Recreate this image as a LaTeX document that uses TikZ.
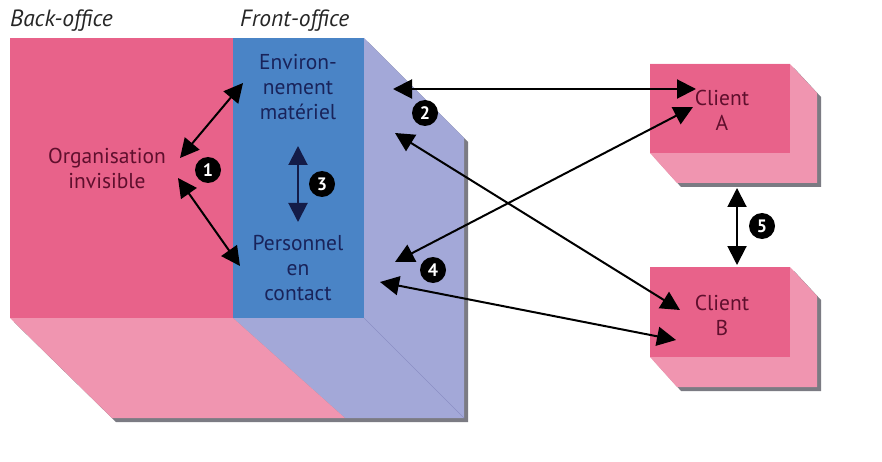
\documentclass[tikz,border=0pt]{standalone}
\usepackage{fontspec}
\setmainfont{PT Sans}
\usetikzlibrary{arrows.meta}
\definecolor{pinkfront}{RGB}{232,98,138}
\definecolor{pinklight}{RGB}{240,149,176}
\definecolor{bluepanel}{RGB}{74,132,198}
\definecolor{lavender}{RGB}{163,168,216}
\definecolor{lavline}{RGB}{140,145,200}
\definecolor{maroontext}{RGB}{95,15,45}
\definecolor{navytext}{RGB}{25,35,90}
\definecolor{shadowgray}{RGB}{90,90,100}
\begin{document}
\begin{tikzpicture}[x=1pt,y=-1pt,
  biarrow/.style={{Triangle[length=19pt,width=19pt]}-{Triangle[length=19pt,width=19pt]}, line width=2pt},
  numdot/.style={circle, fill=black, text=white, inner sep=0pt, minimum size=26pt, font=\bfseries\fontsize{18}{18}\selectfont},
  lbl/.style={align=center, font=\fontsize{21.5}{25}\selectfont},
  head/.style={font=\itshape\fontsize{23.5}{25}\selectfont, text=black!85, anchor=west, inner sep=0pt}
]
\useasboundingbox[fill=white] (0,0) rectangle (882,462);

% cube shadow
\fill[shadowgray, opacity=0.8] (14,42) -- (368,42) -- (468,142) -- (468,422) -- (116,422) -- (14,322) -- cycle;
% cube faces
\fill[pinkfront] (10,38) rectangle (233,318);
\fill[bluepanel] (233,38) rectangle (364,318);
\fill[lavender] (364,38) -- (464,138) -- (464,418) -- (364,318) -- cycle;
\fill[lavender] (233,318) -- (364,318) -- (464,418) -- (345,418) -- cycle;
\fill[pinklight] (10,318) -- (233,318) -- (345,418) -- (112,418) -- cycle;
\draw[lavline, line width=0.5pt] (364,318) -- (464,418);

% client A
\fill[shadowgray, opacity=0.8] (654,68) -- (794,68) -- (821,97) -- (821,187) -- (681,187) -- (654,157) -- cycle;
\fill[pinklight] (650,64) -- (790,64) -- (817,93) -- (817,183) -- (677,183) -- (650,153) -- cycle;
\fill[pinkfront] (650,64) rectangle (790,153);
% client B
\fill[shadowgray, opacity=0.8] (654,271) -- (794,271) -- (821,300) -- (821,391) -- (681,391) -- (654,361) -- cycle;
\fill[pinklight] (650,267) -- (790,267) -- (817,296) -- (817,387) -- (677,387) -- (650,357) -- cycle;
\fill[pinkfront] (650,267) rectangle (790,357);

% headings
\node[head] (bo) at (10,21) {Back-office};
\node[head] (fo) at (240,21) {Front-office};

% labels
\node[lbl, text=maroontext] (org) at (107,168) {Organisation\\invisible};
\node[lbl, text=navytext] (env) at (298,87) {Environ-\\nement\\matériel};
\node[lbl, text=navytext] (pers) at (298,268) {Personnel\\en\\contact};
\node[lbl, text=maroontext] (ca) at (722,110) {Client\\A};
\node[lbl, text=maroontext] (cb) at (722,315) {Client\\B};

% arrow end points
\coordinate (org-up) at (180,158);
\coordinate (env-left) at (243,83);
\coordinate (org-down) at (178,178);
\coordinate (pers-left) at (240,266);
\coordinate (env-bottom) at (298,146);
\coordinate (pers-top) at (298,222);
\coordinate (env-right) at (393,89);
\coordinate (ca-left) at (696,89);
\coordinate (env-right2) at (395,133);
\coordinate (cb-left) at (680,310);
\coordinate (pers-right) at (395,262);
\coordinate (ca-left2) at (693,107);
\coordinate (pers-right2) at (380,282);
\coordinate (cb-left2) at (676,340);
\coordinate (ca-bottom) at (737,188);
\coordinate (cb-top) at (737,265);

% arrows
\draw[biarrow] (org-up) -- (env-left);
\draw[biarrow] (org-down) -- (pers-left);
\draw[biarrow, draw=navytext!80!black, fill=navytext!60!black] (env-bottom) -- (pers-top);
\draw[biarrow] (env-right) -- (ca-left);
\draw[biarrow] (env-right2) -- (cb-left);
\draw[biarrow] (pers-right) -- (ca-left2);
\draw[biarrow] (pers-right2) -- (cb-left2);
\draw[biarrow] (ca-bottom) -- (cb-top);

% number dots
\node[numdot] (n1) at (208,170) {1};
\node[numdot] (n2) at (425,113) {2};
\node[numdot] (n3) at (322,184) {3};
\node[numdot] (n4) at (433,270) {4};
\node[numdot] (n5) at (762,226) {5};
\end{tikzpicture}
\end{document}
